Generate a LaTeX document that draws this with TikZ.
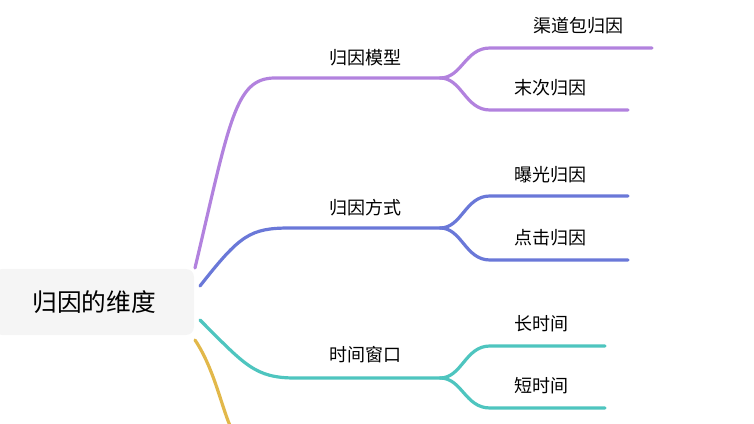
\documentclass[tikz,border=0pt]{standalone}
\usepackage{fontspec}
\setmainfont{Noto Sans CJK SC}
\usetikzlibrary{positioning}
\definecolor{purp}{HTML}{B282DE}
\definecolor{blu}{HTML}{6A78D8}
\definecolor{tea}{HTML}{4EC5BF}
\definecolor{yel}{HTML}{E2B84A}
\newlength{\px}
\setlength{\px}{0.75pt}
\tikzset{%
	root/.style={fill=gray!8, rounded corners=6pt, minimum width=200\px, minimum height=66\px, font=\fontsize{18.5}{22}\selectfont},
	topic/.style={inner sep=1pt, font=\fontsize{13.5}{16}\selectfont},
	leaf/.style={inner sep=1pt, font=\fontsize{13.5}{16}\selectfont},
	branch/.style={line width=2.4pt, line cap=round}
}
\begin{document}
\begin{tikzpicture}[x=0.75pt, y=-0.75pt]
	\useasboundingbox (0,0) rectangle (754,424);
	\node[root] (root) at (94,302) {归因的维度};

	% level one
	\node[topic] (m1) at (365,58) {归因模型};
	\node[topic] (m2) at (365,208) {归因方式};
	\node[topic] (m3) at (365,355) {时间窗口};

	\coordinate (s1) at (195,268); \coordinate (a1) at (275,78); \coordinate (b1) at (440,78);
	\coordinate (s2) at (200,286); \coordinate (a2) at (290,228); \coordinate (b2) at (440,228);
	\coordinate (s3) at (200,320); \coordinate (a3) at (295,378); \coordinate (b3) at (440,378);
	\coordinate (s4) at (195,340); \coordinate (a4) at (232,430);

	\draw[branch, purp] (s1) .. controls (230,120) and (235,78) .. (a1) -- (b1);
	\draw[branch, blu] (s2) .. controls (240,235) and (250,228) .. (a2) -- (b2);
	\draw[branch, tea] (s3) .. controls (245,365) and (255,378) .. (a3) -- (b3);
	\draw[branch, yel] (s4) .. controls (215,370) and (222,410) .. (a4);

	% leaves
	\node[leaf] (l11) at (578,26) {渠道包归因};
	\node[leaf] (l12) at (550,88) {末次归因};
	\node[leaf] (l21) at (550,175) {曝光归因};
	\node[leaf] (l22) at (550,238) {点击归因};
	\node[leaf] (l31) at (541,324) {长时间};
	\node[leaf] (l32) at (541,386) {短时间};

	\draw[branch, purp] (b1) .. controls (462,78) and (465,48) .. (490,48) -- (652,48);
	\draw[branch, purp] (b1) .. controls (462,78) and (465,110) .. (490,110) -- (628,110);
	\draw[branch, blu] (b2) .. controls (462,228) and (465,196) .. (490,196) -- (628,196);
	\draw[branch, blu] (b2) .. controls (462,228) and (465,260) .. (490,260) -- (628,260);
	\draw[branch, tea] (b3) .. controls (462,378) and (465,346) .. (490,346) -- (605,346);
	\draw[branch, tea] (b3) .. controls (462,378) and (465,408) .. (490,408) -- (605,408);
\end{tikzpicture}
\end{document}
